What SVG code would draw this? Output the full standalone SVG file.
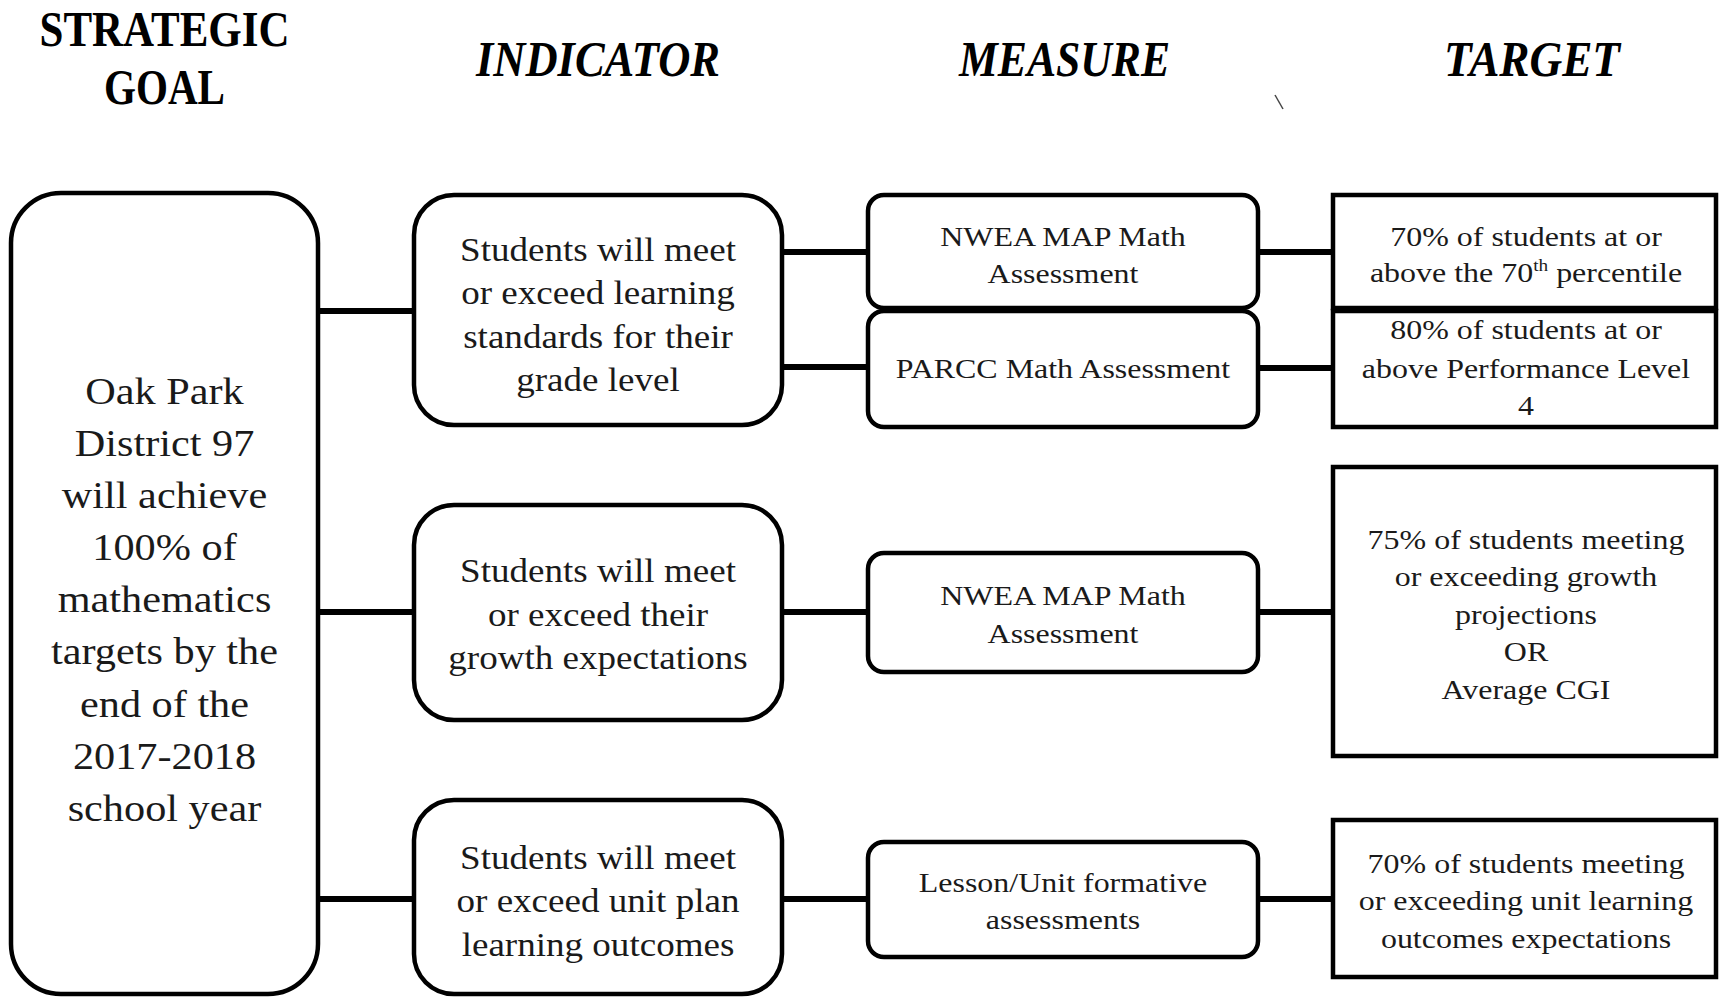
<svg xmlns="http://www.w3.org/2000/svg" width="1719" height="997" viewBox="0 0 1719 997">
<style>
.box{fill:#fff;stroke:#000;stroke-width:4.5}
.conn line{stroke:#000;stroke-width:6}
.t{font-family:"Liberation Serif","Times New Roman",serif;text-anchor:middle;fill:#1a1a1a}
.goal{font-size:37.3px}
.ind{font-size:32.7px}
.sm{font-size:28.2px}
.hd{font-family:"Liberation Serif","Times New Roman",serif;font-weight:bold;font-size:50px;fill:#000}
</style>
<rect width="1719" height="997" fill="#fff"/>

<g id="headers">
  <text class="hd" x="39.5" y="46" textLength="250" lengthAdjust="spacingAndGlyphs">STRATEGIC</text>
  <text class="hd" x="104" y="104" textLength="121" lengthAdjust="spacingAndGlyphs">GOAL</text>
  <text class="hd" x="476" y="76" font-style="italic" textLength="244" lengthAdjust="spacingAndGlyphs">INDICATOR</text>
  <text class="hd" x="959" y="76" font-style="italic" textLength="211" lengthAdjust="spacingAndGlyphs">MEASURE</text>
  <text class="hd" x="1444" y="76" font-style="italic" textLength="176" lengthAdjust="spacingAndGlyphs">TARGET</text>
  <line x1="1275" y1="95" x2="1283" y2="109" stroke="#444" stroke-width="1.5"/>
</g>

<g id="connectors" class="conn">
  <line x1="318" y1="311" x2="414" y2="311"/>
  <line x1="318" y1="612" x2="414" y2="612"/>
  <line x1="318" y1="899" x2="414" y2="899"/>
  <line x1="782" y1="252" x2="868" y2="252"/>
  <line x1="782" y1="367" x2="868" y2="367"/>
  <line x1="782" y1="612" x2="868" y2="612"/>
  <line x1="782" y1="899" x2="868" y2="899"/>
  <line x1="1258" y1="252" x2="1333" y2="252"/>
  <line x1="1258" y1="368" x2="1333" y2="368"/>
  <line x1="1258" y1="612" x2="1333" y2="612"/>
  <line x1="1258" y1="899" x2="1333" y2="899"/>
</g>

<g id="goal">
  <rect class="box" x="11" y="193" width="307" height="801" rx="50" ry="50"/>
  <g class="t goal" transform="translate(164.5,0) scale(1.134,1)">
    <text x="0" y="404">Oak Park</text>
    <text x="0" y="456.1">District 97</text>
    <text x="0" y="508.2">will achieve</text>
    <text x="0" y="560.3">100% of</text>
    <text x="0" y="612.4">mathematics</text>
    <text x="0" y="664.5">targets by the</text>
    <text x="0" y="716.6">end of the</text>
    <text x="0" y="768.7">2017-2018</text>
    <text x="0" y="820.8">school year</text>
  </g>
</g>

<g id="indicator1">
  <rect class="box" x="414" y="195" width="368" height="230" rx="40" ry="40"/>
  <g class="t ind" transform="translate(598,0) scale(1.134,1)">
    <text x="0" y="261">Students will meet</text>
    <text x="0" y="304.5">or exceed learning</text>
    <text x="0" y="348">standards for their</text>
    <text x="0" y="391.5">grade level</text>
  </g>
</g>

<g id="indicator2">
  <rect class="box" x="414" y="505" width="368" height="215" rx="40" ry="40"/>
  <g class="t ind" transform="translate(598,0) scale(1.134,1)">
    <text x="0" y="582.5">Students will meet</text>
    <text x="0" y="626">or exceed their</text>
    <text x="0" y="669.5">growth expectations</text>
  </g>
</g>

<g id="indicator3">
  <rect class="box" x="414" y="800" width="368" height="194" rx="40" ry="40"/>
  <g class="t ind" transform="translate(598,0) scale(1.134,1)">
    <text x="0" y="869">Students will meet</text>
    <text x="0" y="912.5">or exceed unit plan</text>
    <text x="0" y="956">learning outcomes</text>
  </g>
</g>

<g id="measure1">
  <rect class="box" x="868" y="195" width="390" height="113" rx="16" ry="16"/>
  <g class="t sm" transform="translate(1063,0) scale(1.134,1)">
    <text x="0" y="246">NWEA MAP Math</text>
    <text x="0" y="283">Assessment</text>
  </g>
</g>

<g id="measure2">
  <rect class="box" x="868" y="311" width="390" height="116" rx="16" ry="16"/>
  <g class="t sm" transform="translate(1063,0) scale(1.134,1)">
    <text x="0" y="378">PARCC Math Assessment</text>
  </g>
</g>

<g id="measure3">
  <rect class="box" x="868" y="553" width="390" height="119" rx="16" ry="16"/>
  <g class="t sm" transform="translate(1063,0) scale(1.134,1)">
    <text x="0" y="605.5">NWEA MAP Math</text>
    <text x="0" y="643">Assessment</text>
  </g>
</g>

<g id="measure4">
  <rect class="box" x="868" y="842" width="390" height="115" rx="16" ry="16"/>
  <g class="t sm" transform="translate(1063,0) scale(1.134,1)">
    <text x="0" y="892.5">Lesson/Unit formative</text>
    <text x="0" y="929.5">assessments</text>
  </g>
</g>

<g id="target1">
  <rect class="box" x="1333" y="195" width="383" height="113"/>
  <g class="t sm" transform="translate(1526,0) scale(1.134,1)">
    <text x="0" y="246.5">70% of students at or</text>
    <text x="0" y="282.5">above the 70<tspan font-size="17" dy="-11">th</tspan><tspan dy="11"> percentile</tspan></text>
  </g>
</g>

<g id="target2">
  <rect class="box" x="1333" y="311" width="383" height="116"/>
  <g class="t sm" transform="translate(1526,0) scale(1.134,1)">
    <text x="0" y="339.5">80% of students at or</text>
    <text x="0" y="378">above Performance Level</text>
    <text x="0" y="415.5">4</text>
  </g>
</g>

<g id="target3">
  <rect class="box" x="1333" y="467" width="383" height="289"/>
  <g class="t sm" transform="translate(1526,0) scale(1.134,1)">
    <text x="0" y="549">75% of students meeting</text>
    <text x="0" y="586.5">or exceeding growth</text>
    <text x="0" y="624">projections</text>
    <text x="0" y="661.5">OR</text>
    <text x="0" y="699">Average CGI</text>
  </g>
</g>

<g id="target4">
  <rect class="box" x="1333" y="820" width="383" height="157"/>
  <g class="t sm" transform="translate(1526,0) scale(1.134,1)">
    <text x="0" y="873">70% of students meeting</text>
    <text x="0" y="910.5">or exceeding unit learning</text>
    <text x="0" y="948.5">outcomes expectations</text>
  </g>
</g>
</svg>
